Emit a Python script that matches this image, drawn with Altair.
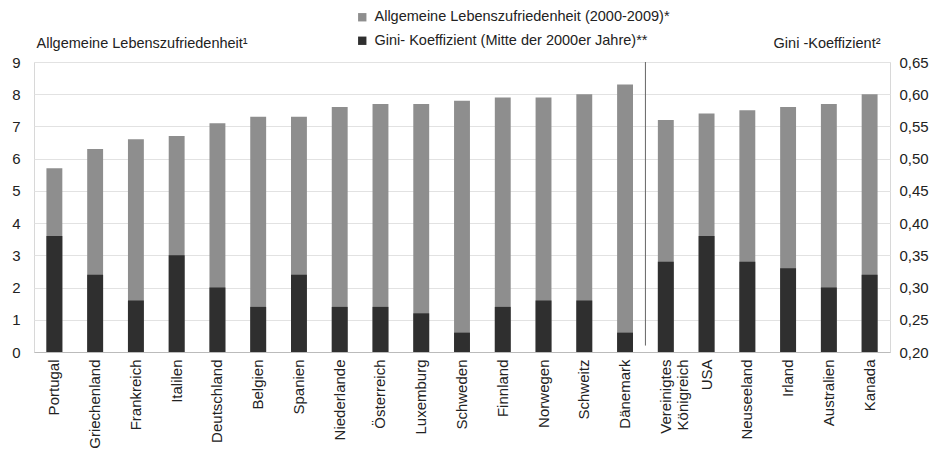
import altair as alt
import pandas as pd

laender = ["Portugal", "Griechenland", "Frankreich", "Italilen", "Deutschland", "Belgien",
           "Spanien", "Niederlande", "Österreich", "Luxemburg", "Schweden", "Finnland",
           "Norwegen", "Schweitz", "Dänemark", "Vereinigtes Königreich", "USA",
           "Neuseeland", "Irland", "Australien", "Kanada"]
lebenszufriedenheit = [5.7, 6.3, 6.6, 6.7, 7.1, 7.3, 7.3, 7.6, 7.7, 7.7, 7.8, 7.9,
                       7.9, 8.0, 8.3, 7.2, 7.4, 7.5, 7.6, 7.7, 8.0]
gini = [0.38, 0.32, 0.28, 0.35, 0.30, 0.27, 0.32, 0.27, 0.27, 0.26, 0.23, 0.27,
        0.28, 0.28, 0.23, 0.34, 0.38, 0.34, 0.33, 0.30, 0.32]
links_ticks = [0, 1, 2, 3, 4, 5, 6, 7, 8, 9]
rechts_ticks = [0.20, 0.25, 0.30, 0.35, 0.40, 0.45, 0.50, 0.55, 0.60, 0.65]
trenner = ["Dänemark"]

L1 = "Allgemeine Lebenszufriedenheit (2000-2009)*"
L2 = "Gini- Koeffizient (Mitte der 2000er Jahre)**"

df = pd.DataFrame({"Land": laender, "Leben": lebenszufriedenheit, "Gini": gini})
df_rule = pd.DataFrame({"Land": trenner})

FONT = "Liberation Sans"
color_scale = alt.Scale(domain=[L1, L2], range=["#8e8e8e", "#2f2f2f"])

x_enc = alt.X(
    "Land:N", sort=laender,
    scale=alt.Scale(paddingInner=0, paddingOuter=0),
    axis=alt.Axis(
        title=None, labelAngle=-90, labelFontSize=15, labelColor="#222",
        domain=True, domainColor="#bbbbbb", ticks=False, labelPadding=7,
        labelExpr="datum.label == 'Vereinigtes Königreich' ? ['Vereinigtes', 'Königreich'] : datum.label",
    ),
)

left_scale = alt.Scale(domain=[0, 9], nice=False)
left_axis = alt.Axis(
    values=links_ticks, title="Allgemeine Lebenszufriedenheit¹",
    titleAngle=0, titleAlign="left", titleBaseline="alphabetic",
    titleX=2, titleY=-15, titleFontWeight="normal", titleFontSize=14.5,
    titleColor="#222", grid=True, gridColor="#e2e2e2", domain=False,
    ticks=False, labelFontSize=15, labelColor="#222", labelPadding=14,
    labelOverlap=False,
)

base = alt.Chart(df)

bars_leben = base.transform_calculate(Serie=f"'{L1}'").mark_bar(
    width=alt.RelativeBandSize(0.39)
).encode(
    x=x_enc,
    y=alt.Y("Leben:Q", scale=left_scale, axis=left_axis),
    color=alt.Color("Serie:N", scale=color_scale, legend=alt.Legend(
        title=None, orient="none", legendX=321, legendY=-52, direction="vertical",
        symbolType="square", symbolSize=70, symbolStrokeWidth=0,
        labelFontSize=14.5, labelColor="#222", rowPadding=8.5, labelOffset=5,
        labelLimit=0,
    )),
)

rule = alt.Chart(df_rule).mark_rule(color="#666666", strokeWidth=1).encode(
    x=alt.X("Land:N", sort=laender, bandPosition=1),
    y=alt.YDatum(9, scale=left_scale, axis=left_axis),
    y2=alt.datum(0.2),
)

bars_gini = base.transform_calculate(Serie=f"'{L2}'").mark_bar(
    width=alt.RelativeBandSize(0.39)
).encode(
    x=x_enc,
    y=alt.Y(
        "Gini:Q",
        scale=alt.Scale(domain=[0.2, 0.65], zero=False, nice=False),
        axis=alt.Axis(
            orient="right", values=rechts_ticks,
            labelExpr="replace(format(datum.value, '.2f'), '.', ',')",
            title="Gini -Koeffizient²", titleAngle=0, titleAlign="right",
            titleBaseline="alphabetic", titleX=-10, titleY=-15,
            titleFontWeight="normal", titleFontSize=14.5, titleColor="#222",
            grid=False, domain=False, ticks=False, labelFontSize=15,
            labelColor="#222", labelPadding=9, labelOverlap=False,
        ),
    ),
    y2=alt.datum(0.2),
    color=alt.Color("Serie:N", scale=color_scale),
)

chart = alt.layer(
    alt.layer(bars_leben, rule), bars_gini
).resolve_scale(y="independent").properties(
    width=856, height=290,
    padding={"left": 3, "top": 2, "right": 0, "bottom": 0},
).configure(font=FONT).configure_view(stroke="#d8d8d8")

chart.save("out.html", embed_options={"renderer": "svg", "actions": False})
